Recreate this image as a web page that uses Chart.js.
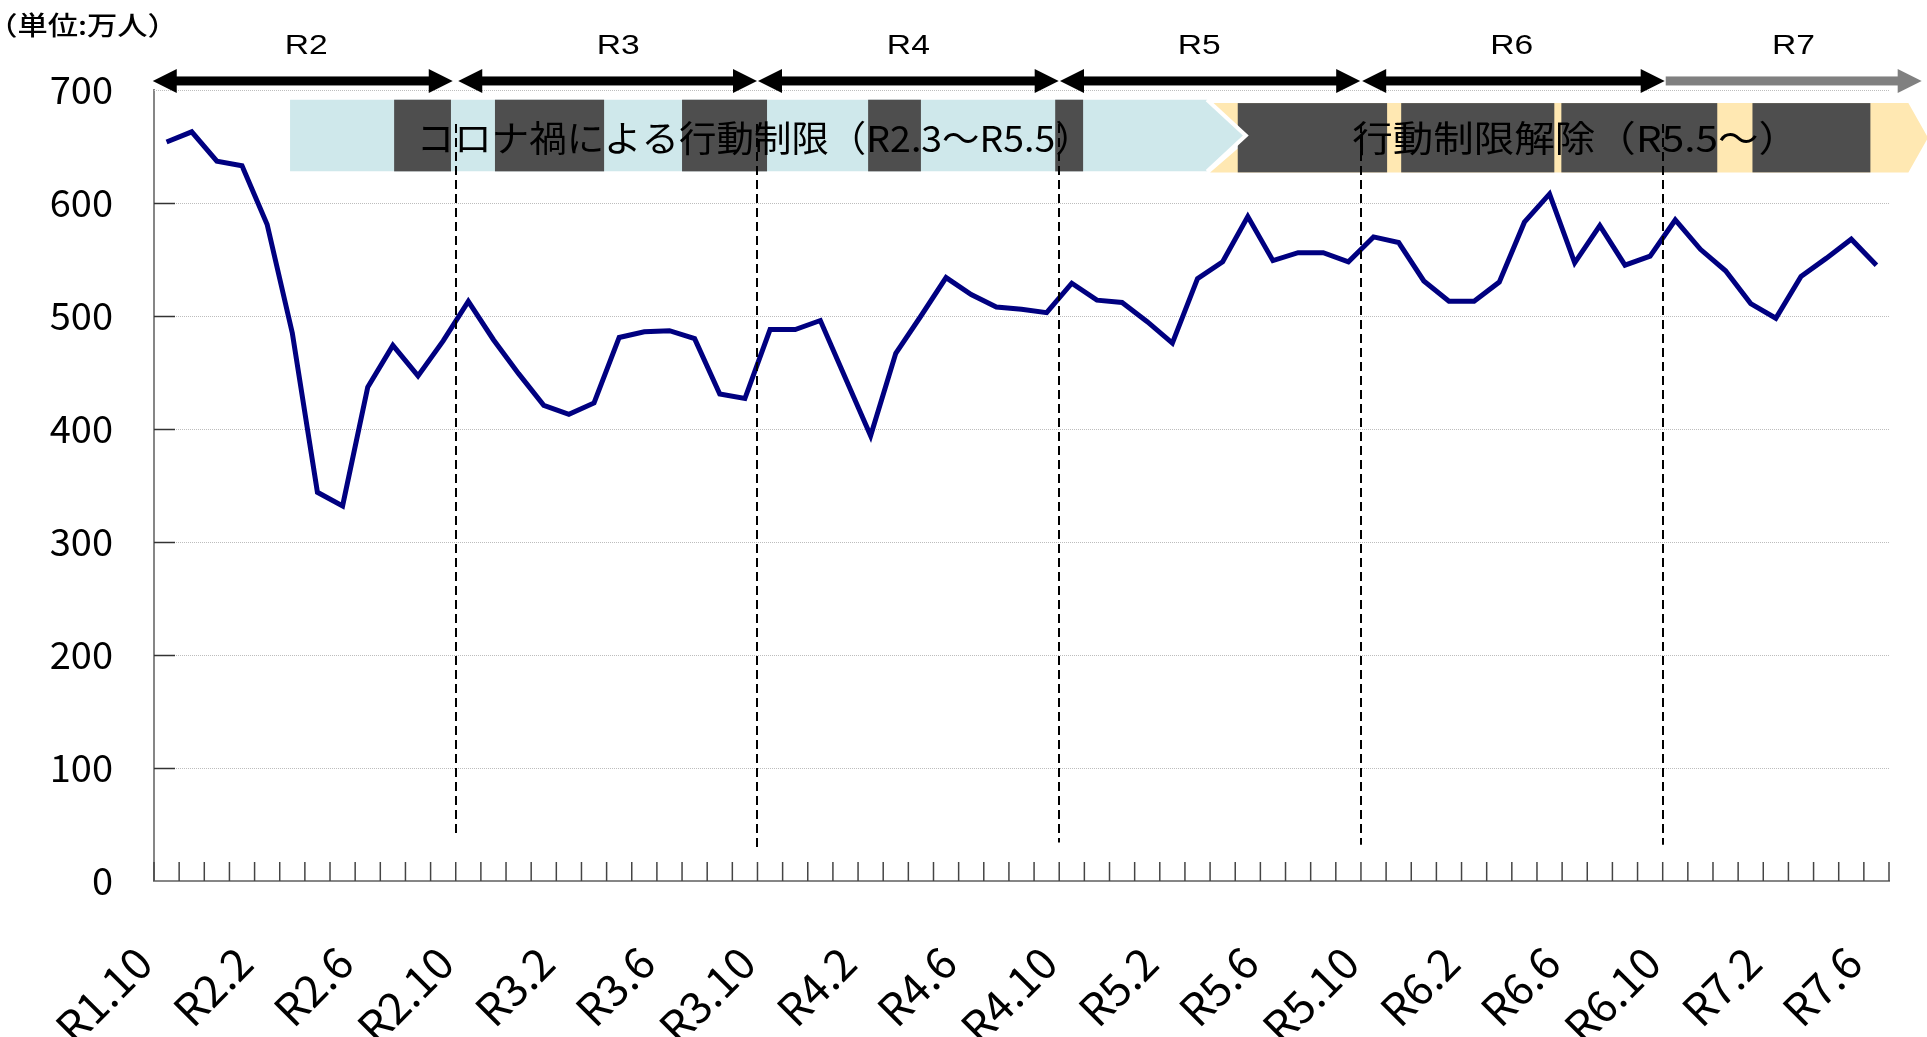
<!DOCTYPE html>
<html><head><meta charset="utf-8">
<script src="https://cdn.jsdelivr.net/npm/chart.js@4.4.1/dist/chart.umd.min.js"></script>
<style>html,body{margin:0;padding:0;background:#fff;overflow:hidden}canvas{display:block}</style>
</head><body>
<canvas id="c" width="1927" height="1037"></canvas>
<script>
// ---- data ----
const monthLabels = [
  'R1.10','R1.11','R1.12',
  'R2.1','R2.2','R2.3','R2.4','R2.5','R2.6','R2.7','R2.8','R2.9','R2.10','R2.11','R2.12',
  'R3.1','R3.2','R3.3','R3.4','R3.5','R3.6','R3.7','R3.8','R3.9','R3.10','R3.11','R3.12',
  'R4.1','R4.2','R4.3','R4.4','R4.5','R4.6','R4.7','R4.8','R4.9','R4.10','R4.11','R4.12',
  'R5.1','R5.2','R5.3','R5.4','R5.5','R5.6','R5.7','R5.8','R5.9','R5.10','R5.11','R5.12',
  'R6.1','R6.2','R6.3','R6.4','R6.5','R6.6','R6.7','R6.8','R6.9','R6.10','R6.11','R6.12',
  'R7.1','R7.2','R7.3','R7.4','R7.5','R7.6'
];
const visitors = [
  654,663,637,633,581,485,344,332,437,474,447,478,513,479,449,
  421,413,423,481,486,487,480,431,427,488,488,496,445,394,467,
  500,534,519,508,506,503,529,514,512,495,476,533,548,588,549,
  556,556,548,570,565,531,513,513,530,583,608,547,580,545,553,
  585,559,540,511,498,535,551,568,545
];
const yTickValues = [0,100,200,300,400,500,600,700];
const unitLabel = '（単位:万人）';
const yearNames = ['R2','R3','R4','R5','R6','R7'];
const yearArrowStart = [-0.55, 11.6, 23.52, 35.53, 47.55, 59.62];
const yearArrowEnd = [11.38, 23.48, 35.48, 47.47, 59.58, 69.8];
const yearLabelCenter = [5.55, 17.96, 29.5, 41.07, 53.5, 64.7];
const yearBoundaries = [11.5, 23.5, 35.5, 47.5, 59.5];
const boundaryLineEnd = [38, 28, 34, 32, 32];
const bannerTexts = ['コロナ禍による行動制限（R2.3～R5.5）', '行動制限解除（R5.5～）'];
const bannerTextSpan = [[10.16, 35.8], [47.15, 63.8]];
const blueBlocks = [[9.05,11.31],[13.06,17.4],[20.5,23.88],[27.9,30.0],[35.34,36.45]];
const yellowBlocks = [[42.6,48.54],[49.1,55.19],[55.47,61.67],[63.07,67.76]];

const CJK = "'Noto Sans CJK JP', 'Noto Sans', sans-serif";

function fitText(ctx, text, x0, x1, yc, font) {
  ctx.save();
  ctx.font = font; ctx.textAlign = 'left'; ctx.textBaseline = 'middle';
  const m = ctx.measureText(text);
  const visW = m.actualBoundingBoxLeft + m.actualBoundingBoxRight;
  const s = (x1 - x0) / visW;
  ctx.translate(x0, yc); ctx.scale(s, 1);
  ctx.fillStyle = '#000';
  ctx.fillText(text, m.actualBoundingBoxLeft, 0);
  ctx.restore();
}

function arrow(ctx, xa, xb, y, color, doubleHead) {
  const hl = 24, hw = 12, sw = 9;
  ctx.save();
  ctx.fillStyle = color;
  const s0 = doubleHead ? xa + hl - 1 : xa;
  ctx.fillRect(s0, y - sw / 2, (xb - hl + 1) - s0, sw);
  ctx.beginPath(); ctx.moveTo(xb, y); ctx.lineTo(xb - hl, y - hw); ctx.lineTo(xb - hl, y + hw); ctx.closePath(); ctx.fill();
  if (doubleHead) {
    ctx.beginPath(); ctx.moveTo(xa, y); ctx.lineTo(xa + hl, y - hw); ctx.lineTo(xa + hl, y + hw); ctx.closePath(); ctx.fill();
  }
  ctx.restore();
}

const decor = {
  id: 'decor',
  beforeDraw(chart) {
    const ctx = chart.ctx;
    ctx.save(); ctx.fillStyle = '#fff'; ctx.fillRect(0, 0, chart.width, chart.height); ctx.restore();
  },
  beforeDatasetsDraw(chart) {
    const ctx = chart.ctx, xs = chart.scales.x, ys = chart.scales.y, a = chart.chartArea;
    const X = v => xs.getPixelForValue(v), Y = v => ys.getPixelForValue(v);
    ctx.save();
    // dotted grid
    ctx.strokeStyle = '#bdbdbd'; ctx.lineWidth = 1; ctx.setLineDash([1, 1]);
    yTickValues.forEach(v => {
      if (v === 0) return;
      const y = Math.round(Y(v)) + 0.5;
      ctx.beginPath(); ctx.moveTo(a.left, y); ctx.lineTo(a.right, y); ctx.stroke();
    });
    ctx.setLineDash([]);
    // inward y ticks
    ctx.strokeStyle = '#333'; ctx.lineWidth = 1.5;
    yTickValues.forEach(v => {
      if (v === 0 || v === 700) return;
      const y = Math.round(Y(v)) + 0.5;
      ctx.beginPath(); ctx.moveTo(a.left, y); ctx.lineTo(a.left + 21, y); ctx.stroke();
    });
    // inward x ticks at category boundaries
    ctx.strokeStyle = '#444'; ctx.lineWidth = 1.5;
    for (let k = 0; k <= monthLabels.length; k++) {
      const x = X(k - 0.5);
      ctx.beginPath(); ctx.moveTo(x, a.bottom); ctx.lineTo(x, a.bottom - 19); ctx.stroke();
    }
    // banners
    const bTop = Y(691.4), bBot = Y(628), yTop = Y(688.4), yBot = Y(627.1);
    const bMid = (bTop + bBot) / 2, yMid = (yTop + yBot) / 2;
    ctx.fillStyle = '#ffe8b2';
    ctx.beginPath();
    ctx.moveTo(X(41.5), yTop); ctx.lineTo(X(69.27), yTop); ctx.lineTo(X(70.05), yMid);
    ctx.lineTo(X(69.27), yBot); ctx.lineTo(X(41.5), yBot); ctx.lineTo(X(43.1), yMid); ctx.closePath(); ctx.fill();
    ctx.fillStyle = '#4e4e4e';
    yellowBlocks.forEach(([s, e]) => ctx.fillRect(X(s), yTop, X(e) - X(s), yBot - yTop));
    ctx.fillStyle = '#cfe8eb';
    ctx.beginPath();
    ctx.moveTo(X(4.91), bTop); ctx.lineTo(X(41.38), bTop); ctx.lineTo(X(42.92), bMid);
    ctx.lineTo(X(41.38), bBot); ctx.lineTo(X(4.91), bBot); ctx.closePath(); ctx.fill();
    ctx.strokeStyle = '#fff'; ctx.lineWidth = 4;
    ctx.beginPath(); ctx.moveTo(X(41.38), bTop); ctx.lineTo(X(42.92), bMid); ctx.lineTo(X(41.38), bBot); ctx.stroke();
    ctx.fillStyle = '#4e4e4e';
    blueBlocks.forEach(([s, e]) => ctx.fillRect(X(s), bTop, X(e) - X(s), bBot - bTop));
    ctx.restore();
    // banner texts
    fitText(ctx, bannerTexts[0], X(bannerTextSpan[0][0]), X(bannerTextSpan[0][1]), Y(657), '36px ' + CJK);
    fitText(ctx, bannerTexts[1], X(bannerTextSpan[1][0]), X(bannerTextSpan[1][1]), Y(657), '36px ' + CJK);
  },
  afterDatasetsDraw(chart) {
    const ctx = chart.ctx, xs = chart.scales.x, ys = chart.scales.y;
    const X = v => xs.getPixelForValue(v), Y = v => ys.getPixelForValue(v);
    ctx.save();
    // year boundary dashed lines
    ctx.strokeStyle = '#000'; ctx.lineWidth = 2; ctx.setLineDash([9, 5]);
    yearBoundaries.forEach((b, i) => {
      const x = Math.round(X(b));
      ctx.beginPath(); ctx.moveTo(x, Y(670)); ctx.lineTo(x, Y(boundaryLineEnd[i])); ctx.stroke();
    });
    ctx.setLineDash([]);
    // year arrows
    const ay = Y(708);
    yearNames.forEach((n, i) => {
      const last = i === yearNames.length - 1;
      arrow(ctx, X(yearArrowStart[i]), X(yearArrowEnd[i]), ay, last ? '#808080' : '#000', !last);
      ctx.save();
      ctx.font = "28px 'Liberation Sans', Arial, sans-serif";
      ctx.textAlign = 'center'; ctx.textBaseline = 'middle'; ctx.fillStyle = '#000';
      ctx.translate(X(yearLabelCenter[i]), Y(739)); ctx.scale(1.2, 1);
      ctx.fillText(n, 0, 0);
      ctx.restore();
    });
    // unit label (top-left corner)
    fitText(ctx, unitLabel, 7, 158, Y(757), '500 26px ' + CJK);
    ctx.restore();
  }
};

new Chart(document.getElementById('c'), {
  type: 'line',
  data: {
    labels: monthLabels,
    datasets: [{
      data: visitors,
      borderColor: '#000080',
      borderWidth: 5,
      pointRadius: 0,
      tension: 0,
      fill: false
    }]
  },
  options: {
    responsive: false,
    animation: false,
    layout: { padding: { top: 90, right: 38, left: 0, bottom: 0 } },
    plugins: { legend: { display: false }, tooltip: { enabled: false } },
    scales: {
      x: {
        offset: true,
        grid: { display: false, drawTicks: false },
        border: { display: true, color: '#868686', width: 2 },
        ticks: {
          autoSkip: false, minRotation: 45, maxRotation: 45,
          padding: 55, labelOffset: -23,
          color: '#000', font: { family: CJK, size: 44 },
          callback: (v, i) => (i % 4 === 0 ? monthLabels[i] : '')
        },
        afterFit: s => { s.height = 156; s.paddingLeft = 0; s.paddingRight = 0; }
      },
      y: {
        min: 0, max: 700,
        grid: { display: false, drawTicks: false },
        border: { display: true, color: '#868686', width: 2 },
        ticks: { stepSize: 100, padding: 41, color: '#000', font: { family: CJK, size: 38 } },
        afterFit: s => { s.width = 154; s.paddingTop = 0; s.paddingBottom = 0; }
      }
    }
  },
  plugins: [decor]
});
</script>
</body></html>
